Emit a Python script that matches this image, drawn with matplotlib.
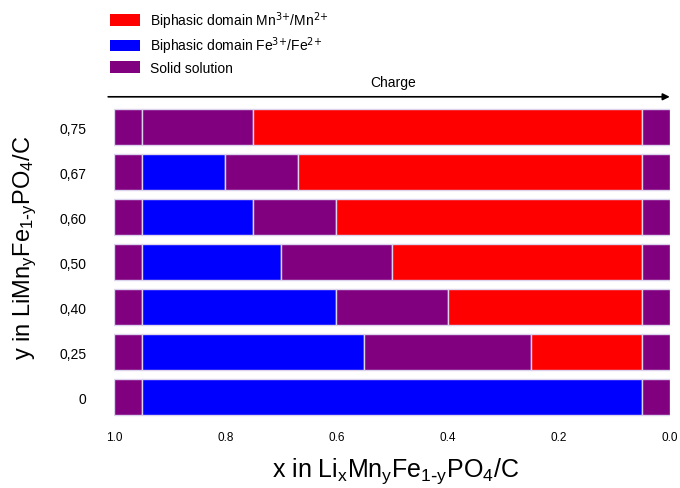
import matplotlib.pyplot as plt
from matplotlib.patches import Patch

plt.rcParams['font.family'] = ['Liberation Sans', 'DejaVu Sans']
plt.rcParams['mathtext.default'] = 'regular'

# compositions y (bottom to top)
y_labels = ['0', '0,25', '0,40', '0,50', '0,60', '0,67', '0,75']
# x where the Fe biphasic domain ends, and where the Mn biphasic domain starts
fe_end = [0.05, 0.55, 0.60, 0.70, 0.75, 0.80, 0.95]
mn_start = [0.05, 0.25, 0.40, 0.50, 0.60, 0.67, 0.75]
ss_start = 1.0   # solid solution at the beginning
fe_start = 0.95
mn_end = 0.05
x_end = 0.0

red = '#ff0000'
blue = '#0000ff'
purple = '#800080'
edge = '#dcd4ec'

fig = plt.figure(figsize=(6.8, 4.89), dpi=100)
ax = fig.add_axes([0.168, 0.14, 0.817, 0.644])

for i in range(len(y_labels)):
    segs = [(ss_start, fe_start, purple),
            (fe_start, fe_end[i], blue),
            (fe_end[i], mn_start[i], purple),
            (mn_start[i], mn_end, red),
            (mn_end, x_end, purple)]
    for a, b, c in segs:
        if a - b <= 0:
            continue
        ax.barh(i, b - a, left=a, height=0.8, color=c, edgecolor=edge, linewidth=1)

ax.set_xlim(1.0, 0.0)
ax.set_ylim(-0.5, len(y_labels) - 0.5)
ax.set_yticks(range(len(y_labels)))
ax.set_yticklabels(y_labels, fontsize=10)
ax.set_xticks([1.0, 0.8, 0.6, 0.4, 0.2, 0.0])
ax.set_xticklabels(['1.0', '0.8', '0.6', '0.4', '0.2', '0.0'], fontsize=8.5)
ax.tick_params(length=0, pad=8)
ax.tick_params(axis='y', pad=20)
for s in ax.spines.values():
    s.set_visible(False)

ax.set_xlabel(r'x in Li$_x$Mn$_y$Fe$_{1\text{-}y}$PO$_4$/C', fontsize=18)
ax.set_ylabel(r'y in LiMn$_y$Fe$_{1\text{-}y}$PO$_4$/C', fontsize=17)
ax.xaxis.set_label_coords(0.507, -0.115)
ax.yaxis.set_label_coords(-0.135, 0.55)

# charge arrow
ax.annotate('', xy=(0.989, 0.80), xytext=(0.155, 0.80), xycoords='figure fraction',
            textcoords='figure fraction',
            arrowprops=dict(arrowstyle='-|>', lw=1.2, color='black', mutation_scale=10))
fig.text(0.578, 0.83, 'Charge', fontsize=10, ha='center', va='center')

handles = [Patch(facecolor=red, label=r'Biphasic domain Mn$^{\text{3+}}$/Mn$^{\text{2+}}$'),
           Patch(facecolor=blue, label=r'Biphasic domain Fe$^{\text{3+}}$/Fe$^{\text{2+}}$'),
           Patch(facecolor=purple, label='Solid solution')]
fig.legend(handles=handles, loc='upper left', bbox_to_anchor=(0.143, 1.005), frameon=False,
           fontsize=10, handlelength=2.2, handleheight=0.9, labelspacing=0.3, handletextpad=0.7)

fig.savefig('out.png', dpi=100)
